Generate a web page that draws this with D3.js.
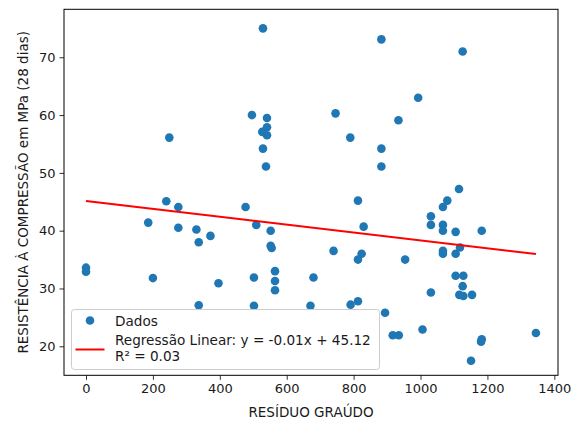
<!DOCTYPE html>
<html>
<head>
<meta charset="utf-8">
<script src="https://cdn.jsdelivr.net/npm/d3@7"></script>
<style>
    body { margin: 0; background: #fff; }
    svg text { font-family: "DejaVu Sans", sans-serif; fill: #1a1a1a; }
</style>
</head>
<body>
<svg id="chart" width="571" height="423"></svg>
<script>
// Residuo graudo (x) vs resistencia a compressao aos 28 dias (y)
let residuo = [
    529, 496, 541, 541, 527, 541, 529, 538, 249, 240,
    883, 1126, 993, 746, 934, 790, 883, 883, 1115, 813,
    1080, 1067, 276, 477, 186, 276, 509, 330, 552, 372,
    337, 552, 555, 0, 0, 200, 565, 502, 565, 680,
    396, 565, 337, 502, 671, 1031, 1031, 1067, 1067, 830,
    1105, 1183, 740, 824, 813, 954, 1067, 1067, 1105, 1118,
    1105, 1128, 1126, 1031, 1116, 1128, 1154, 813, 791, 894,
    1006, 917, 935, 1183, 1181, 1151, 1345
];
let resistencia = [
    75.0, 60.0, 59.5, 57.9, 57.1, 56.5, 54.2, 51.1, 56.1, 45.1,
    73.1, 71.0, 63.0, 60.3, 59.1, 56.1, 54.2, 51.1, 47.2, 45.2,
    45.2, 44.1, 44.1, 44.1, 41.4, 40.5, 41.0, 40.2, 40.0, 39.1,
    38.0, 37.4, 37.0, 33.6, 32.9, 31.8, 33.0, 31.9, 31.3, 31.9,
    30.9, 29.7, 27.1, 27.0, 27.0, 42.5, 41.0, 41.0, 40.0, 40.7,
    39.8, 40.0, 36.5, 36.0, 35.0, 35.0, 36.5, 36.0, 36.0, 37.1,
    32.2, 32.2, 30.4, 29.3, 28.9, 28.7, 28.9, 27.8, 27.2, 25.8,
    22.9, 21.9, 21.9, 21.2, 20.8, 17.5, 22.3
];

// regression coefficients
let slope = -0.0068;
let intercept = 45.12;

let xTicks = [0, 200, 400, 600, 800, 1000, 1200, 1400];
let yTicks = [20, 30, 40, 50, 60, 70];

let legendLabels = ["Dados", "Regressão Linear: y = -0.01x + 45.12", "R² = 0.03"];

let margin = {left: 64, top: 9.3, right: 13, bottom: 47.7};
let width = 571 - margin.left - margin.right;
let height = 423 - margin.top - margin.bottom;

let svg = d3.select("#chart");
let g = svg.append("g")
    .attr("transform", "translate(" + margin.left + "," + margin.top + ")");

let xScale = d3.scaleLinear()
    .domain([-65.8, 1411])
    .range([0, width]);

let yScale = d3.scaleLinear()
    .domain([14.98, 78.3])
    .range([height, 0]);

// axes
let xAxis = d3.axisBottom(xScale).tickValues(xTicks).tickFormat(d3.format("d"))
    .tickSize(4.5).tickPadding(4);
let yAxis = d3.axisLeft(yScale).tickValues(yTicks).tickFormat(d3.format("d"))
    .tickSize(4.5).tickPadding(4);

let gx = g.append("g")
    .attr("transform", "translate(0," + height + ")")
    .call(xAxis);
let gy = g.append("g").call(yAxis);

[gx, gy].forEach(function (a) {
    a.select(".domain").remove();
    a.selectAll(".tick line").attr("stroke", "#1a1a1a").attr("stroke-width", 0.9);
    a.selectAll(".tick text")
        .style("font-size", "13px")
        .style("font-family", "DejaVu Sans");
});

// scatter points
g.selectAll("circle.dot")
    .data(residuo.map(function (d, i) { return [d, resistencia[i]]; }))
    .enter()
    .append("circle")
    .attr("class", "dot")
    .attr("cx", d => xScale(d[0]))
    .attr("cy", d => yScale(d[1]))
    .attr("r", 4.3)
    .style("fill", "#1f77b4");

// regression line over the data range
let xExtent = d3.extent(residuo);
g.append("line")
    .attr("x1", xScale(xExtent[0]))
    .attr("y1", yScale(intercept + slope * xExtent[0]))
    .attr("x2", xScale(xExtent[1]))
    .attr("y2", yScale(intercept + slope * xExtent[1]))
    .attr("stroke", "red")
    .attr("stroke-width", 2);

// frame
g.append("rect")
    .attr("width", width)
    .attr("height", height)
    .attr("fill", "none")
    .attr("stroke", "#000")
    .attr("stroke-width", 1);

// axis labels
svg.append("text")
    .attr("x", margin.left + width / 2)
    .attr("y", 417)
    .attr("text-anchor", "middle")
    .style("font-size", "13.5px")
    .text("RESÍDUO GRAÚDO");

svg.append("text")
    .attr("transform", "translate(28," + (margin.top + height / 2) + ") rotate(-90)")
    .attr("text-anchor", "middle")
    .style("font-size", "13.5px")
    .text("RESISTÊNCIA À COMPRESSÃO em MPa (28 dias)");

// legend
let legend = svg.append("g").attr("transform", "translate(71.5,309.5)");
legend.append("rect")
    .attr("width", 308)
    .attr("height", 60)
    .attr("rx", 3)
    .attr("fill", "white")
    .attr("fill-opacity", 0.8)
    .attr("stroke", "#cccccc")
    .attr("stroke-width", 1);

legend.append("circle")
    .attr("cx", 18.5)
    .attr("cy", 11)
    .attr("r", 4.3)
    .style("fill", "#1f77b4");

legend.append("line")
    .attr("x1", 4).attr("x2", 33)
    .attr("y1", 40).attr("y2", 40)
    .attr("stroke", "red")
    .attr("stroke-width", 2);

legend.selectAll("text.lab")
    .data(legendLabels)
    .enter()
    .append("text")
    .attr("class", "lab")
    .attr("x", 43.5)
    .attr("y", (d, i) => [16, 35.5, 51.5][i])
    .style("font-size", "13.6px")
    .text(d => d);
</script>
</body>
</html>
